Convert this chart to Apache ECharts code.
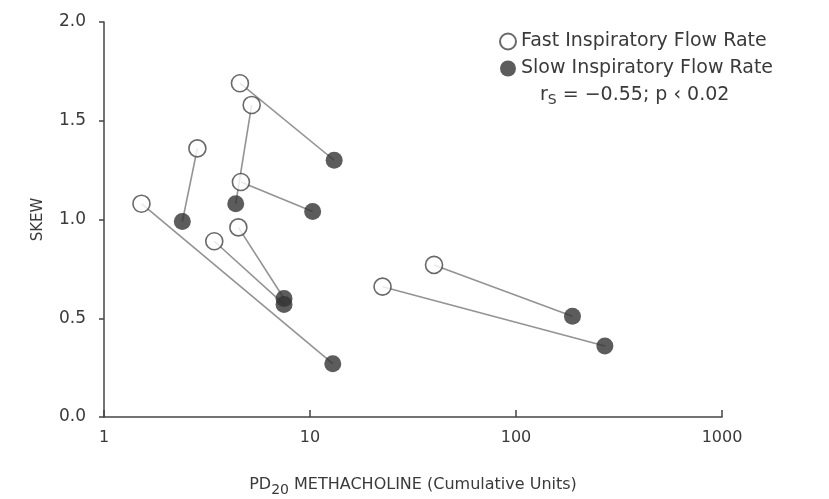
<!DOCTYPE html>
<html>
<head>
<meta charset="utf-8">
<script src="https://cdn.jsdelivr.net/npm/echarts@6/dist/echarts.min.js"></script>
<style>
  html, body { margin: 0; padding: 0; background: #fff; }
  #chart { width: 829px; height: 499px; }
</style>
</head>
<body>
<div id="chart"></div>
<script>
// PD20 (x, log) and skew (y), one entry per subject; fast[i] pairs with slow[i]
var fastX = [1.52, 2.84, 4.57, 5.21, 4.62, 4.49, 3.43, 40, 22.5];
var fastY = [1.08, 1.36, 1.69, 1.58, 1.19, 0.96, 0.89, 0.77, 0.66];
var slowX = [12.9, 2.40, 13.1, 4.36, 10.3, 7.48, 7.48, 188, 270];
var slowY = [0.27, 0.99, 1.30, 1.08, 1.04, 0.60, 0.57, 0.51, 0.36];

var yTicks = ['0.0', '0.5', '1.0', '1.5', '2.0'];

var fontName = 'DejaVu Sans';
var ink = '#3a3a3a';

var fastData = fastX.map(function (x, i) { return [x, fastY[i]]; });
var slowData = slowX.map(function (x, i) { return [x, slowY[i]]; });
var pairLines = fastX.map(function (x, i) {
    return { coords: [[x, fastY[i]], [slowX[i], slowY[i]]] };
});

var myChart = echarts.init(document.getElementById('chart'));

var option = {
    backgroundColor: '#fff',
    animation: false,
    textStyle: { fontFamily: fontName, color: ink },
    grid: { left: 104, right: 107, top: 22, bottom: 82, outerBoundsMode: 'none', containLabel: false },
    legend: {
        orient: 'vertical',
        left: 494,
        top: 27,
        itemWidth: 16,
        itemHeight: 16,
        itemGap: 8,
        textStyle: { fontSize: 19, color: ink, fontFamily: fontName },
        data: [
            { name: 'Fast Inspiratory Flow Rate', icon: 'circle' },
            { name: 'Slow Inspiratory Flow Rate', icon: 'circle' }
        ]
    },
    xAxis: {
        type: 'log',
        logBase: 10,
        min: 1,
        max: 1000,
        name: '{a|PD}{s|20}{a| METHACHOLINE (Cumulative Units)}',
        nameLocation: 'middle',
        nameGap: 56,
        nameTextStyle: {
            rich: {
                a: { fontSize: 16, color: ink, fontFamily: fontName },
                s: { fontSize: 14, color: ink, fontFamily: fontName, padding: [10, 0, 0, 0] }
            }
        },
        axisLine: { lineStyle: { color: '#444', width: 1.5 } },
        axisTick: { show: true, inside: true, length: 7, lineStyle: { color: '#444', width: 1.5 } },
        minorTick: { show: false },
        splitLine: { show: false },
        axisLabel: {
            fontSize: 16,
            color: ink,
            margin: 13,
            formatter: function (v) { return String(Math.round(v)); }
        }
    },
    yAxis: {
        type: 'value',
        min: 0,
        max: 2,
        interval: 0.5,
        name: 'SKEW',
        nameLocation: 'middle',
        nameGap: 58,
        nameTextStyle: { fontSize: 15, color: ink },
        axisLine: { show: true, lineStyle: { color: '#444', width: 1.5 } },
        axisTick: { show: true, length: 5, lineStyle: { color: '#444', width: 1.5 } },
        splitLine: { show: false },
        axisLabel: {
            fontSize: 17,
            color: ink,
            margin: 18,
            formatter: function (v) { return yTicks[Math.round(v / 0.5)]; }
        }
    },
    graphic: [{
        type: 'text',
        left: 540,
        top: 86,
        style: {
            text: '{a|r}{s|S}{a| = \u22120.55; p \u2039 0.02}',
            rich: {
                a: { fontSize: 19, fill: ink, fontFamily: fontName },
                s: { fontSize: 14, fill: ink, fontFamily: fontName, padding: [10, 0, 0, 0] }
            }
        }
    }],
    series: [{
        type: 'lines',
        coordinateSystem: 'cartesian2d',
        silent: true,
        z: 1,
        lineStyle: { color: '#939393', width: 1.6, opacity: 1 },
        data: pairLines
    }, {
        name: 'Fast Inspiratory Flow Rate',
        type: 'scatter',
        z: 3,
        symbol: 'circle',
        symbolSize: 17,
        itemStyle: { color: '#fff', borderColor: '#444', borderWidth: 1.6 },
        data: fastData
    }, {
        name: 'Slow Inspiratory Flow Rate',
        type: 'scatter',
        z: 4,
        symbol: 'circle',
        symbolSize: 17,
        itemStyle: { color: '#333' },
        data: slowData
    }]
};

myChart.setOption(option);
</script>
</body>
</html>
